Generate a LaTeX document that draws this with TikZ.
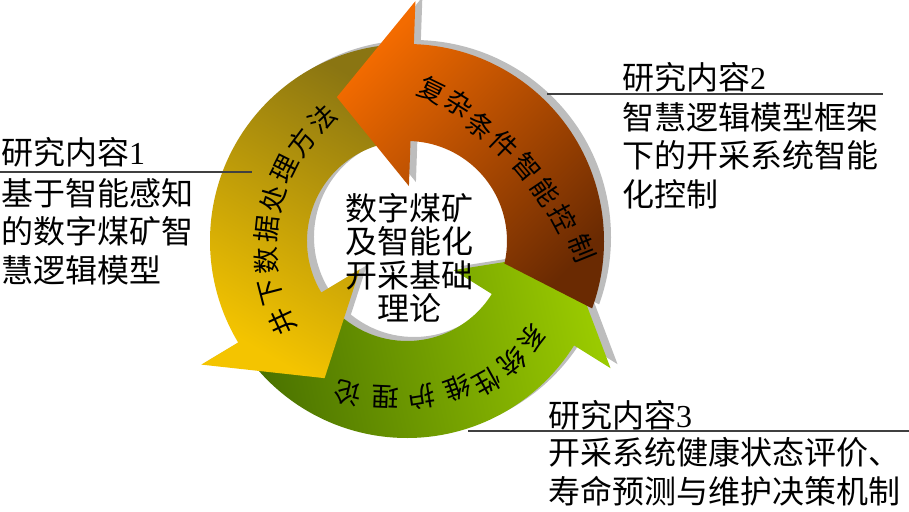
\documentclass[tikz,border=0pt]{standalone}
\usepackage{fontspec}
\newfontfamily\cjk{Noto Sans CJK SC}
\newfontfamily\latn{Liberation Serif}
\definecolor{orgA}{HTML}{F36B00}
\definecolor{orgB}{HTML}{6A2A02}
\definecolor{yelA}{HTML}{8A7512}
\definecolor{yelB}{HTML}{F4C400}
\definecolor{grnA}{HTML}{9ACA00}
\definecolor{grnB}{HTML}{4B7300}
\definecolor{shd}{HTML}{BDBDBD}
\definecolor{rulec}{HTML}{404040}
\tikzset{
  ringarrow/.style n args={3}{insert path={(#1:197pt) arc[start angle=#1,end angle=#3,radius=197pt] -- (#3:240pt) -- ({#3+28}:160pt) -- (#3:55pt) -- (#3:100pt) arc[start angle=#3,end angle=#2,radius=100pt] -- cycle}},
  lbl/.style={font=\cjk\fontsize{32}{38.5}\selectfont, anchor=west, align=left, inner sep=0pt},
  ctr/.style={font=\cjk\fontsize{32}{33.5}\selectfont, align=center, inner sep=0pt},
  arctext/.style={font=\cjk\fontsize{27}{27}\selectfont, inner sep=0pt},
  seprule/.style={draw=rulec, line width=1.5pt},
  shadowfill/.style={fill=shd, shift={(7,4)}}
}
\begin{document}
\begin{tikzpicture}[x=1pt,y=1pt]
\useasboundingbox (-407,-270) rectangle (502,241);
% shadows
\fill[shadowfill, ringarrow={215}{215}{328}];
\fill[shadowfill, ringarrow={92}{92}{211}];
\fill[shadowfill, ringarrow={-20}{-13}{88}];
% arrows
\shade[top color=grnA, bottom color=grnB, shading angle=-78, ringarrow={215}{215}{328}];
\shade[top color=yelA, bottom color=yelB, shading angle=-30, ringarrow={92}{92}{211}];
\shade[top color=orgA, bottom color=orgB, shading angle=45, ringarrow={-20}{-13}{88}];
% arc texts
\foreach \c/\x/\y/\r [count=\i] in {复/25/151/-26, 杂/52.5/137/-32, 条/73.5/115/-38, 件/97.5/96/-44, 智/120.5/74/-50, 能/139/49/-56, 控/156/22.5/-62, 制/175/-7/-68}
  \node[arctext, rotate=\r] (o\i) at (\x,\y) {\c};
\foreach \c/\x/\y/\r [count=\i] in {井/-124.8/-81/115, 下/-135.4/-51.2/104.5, 数/-140.5/-20/94, 据/-140/11.6/84, 处/-133.9/42.6/74, 理/-122.4/72/63.5, 方/-105.8/98.9/53, 法/-84.8/122.4/43}
  \node[arctext, rotate=\r] (y\i) at (\x,\y) {\c};
\foreach \c/\x/\y/\r [count=\i] in {系/125/-97/228, 统/105/-121/218.5, 性/80/-141/209, 维/50/-147/200, 护/15/-156/189, 理/-21/-156/177.5, 论/-59/-152/166}
  \node[arctext, rotate=\r] (g\i) at (\x,\y) {\c};
% centre
\node[ctr] (core) at (2,-16.75) {数字煤矿\\及智能化\\开采基础\\理论};
% labels
\node[lbl] (h1) at (-406,89) {研究内容{\latn 1}};
\coordinate (l1a) at (-407,69); \coordinate (l1b) at (-155,69);
\draw[seprule] (l1a) -- (l1b);
\node[lbl] (d1) at (-406,9.5) {基于智能感知\\的数字煤矿智\\慧逻辑模型};
\node[lbl] (h2) at (215,164) {研究内容{\latn 2}};
\coordinate (l2a) at (140,147); \coordinate (l2b) at (476,147);
\draw[seprule] (l2a) -- (l2b);
\node[lbl] (d2) at (215,85.3) {智慧逻辑模型框架\\下的开采系统智能\\化控制};
\node[lbl] (h3) at (141,-174) {研究内容{\latn 3}};
\coordinate (l3a) at (61,-190); \coordinate (l3b) at (502,-190);
\draw[seprule] (l3a) -- (l3b);
\node[lbl] (d3) at (141,-230.5) {开采系统健康状态评价、\\寿命预测与维护决策机制};
\end{tikzpicture}
\end{document}
